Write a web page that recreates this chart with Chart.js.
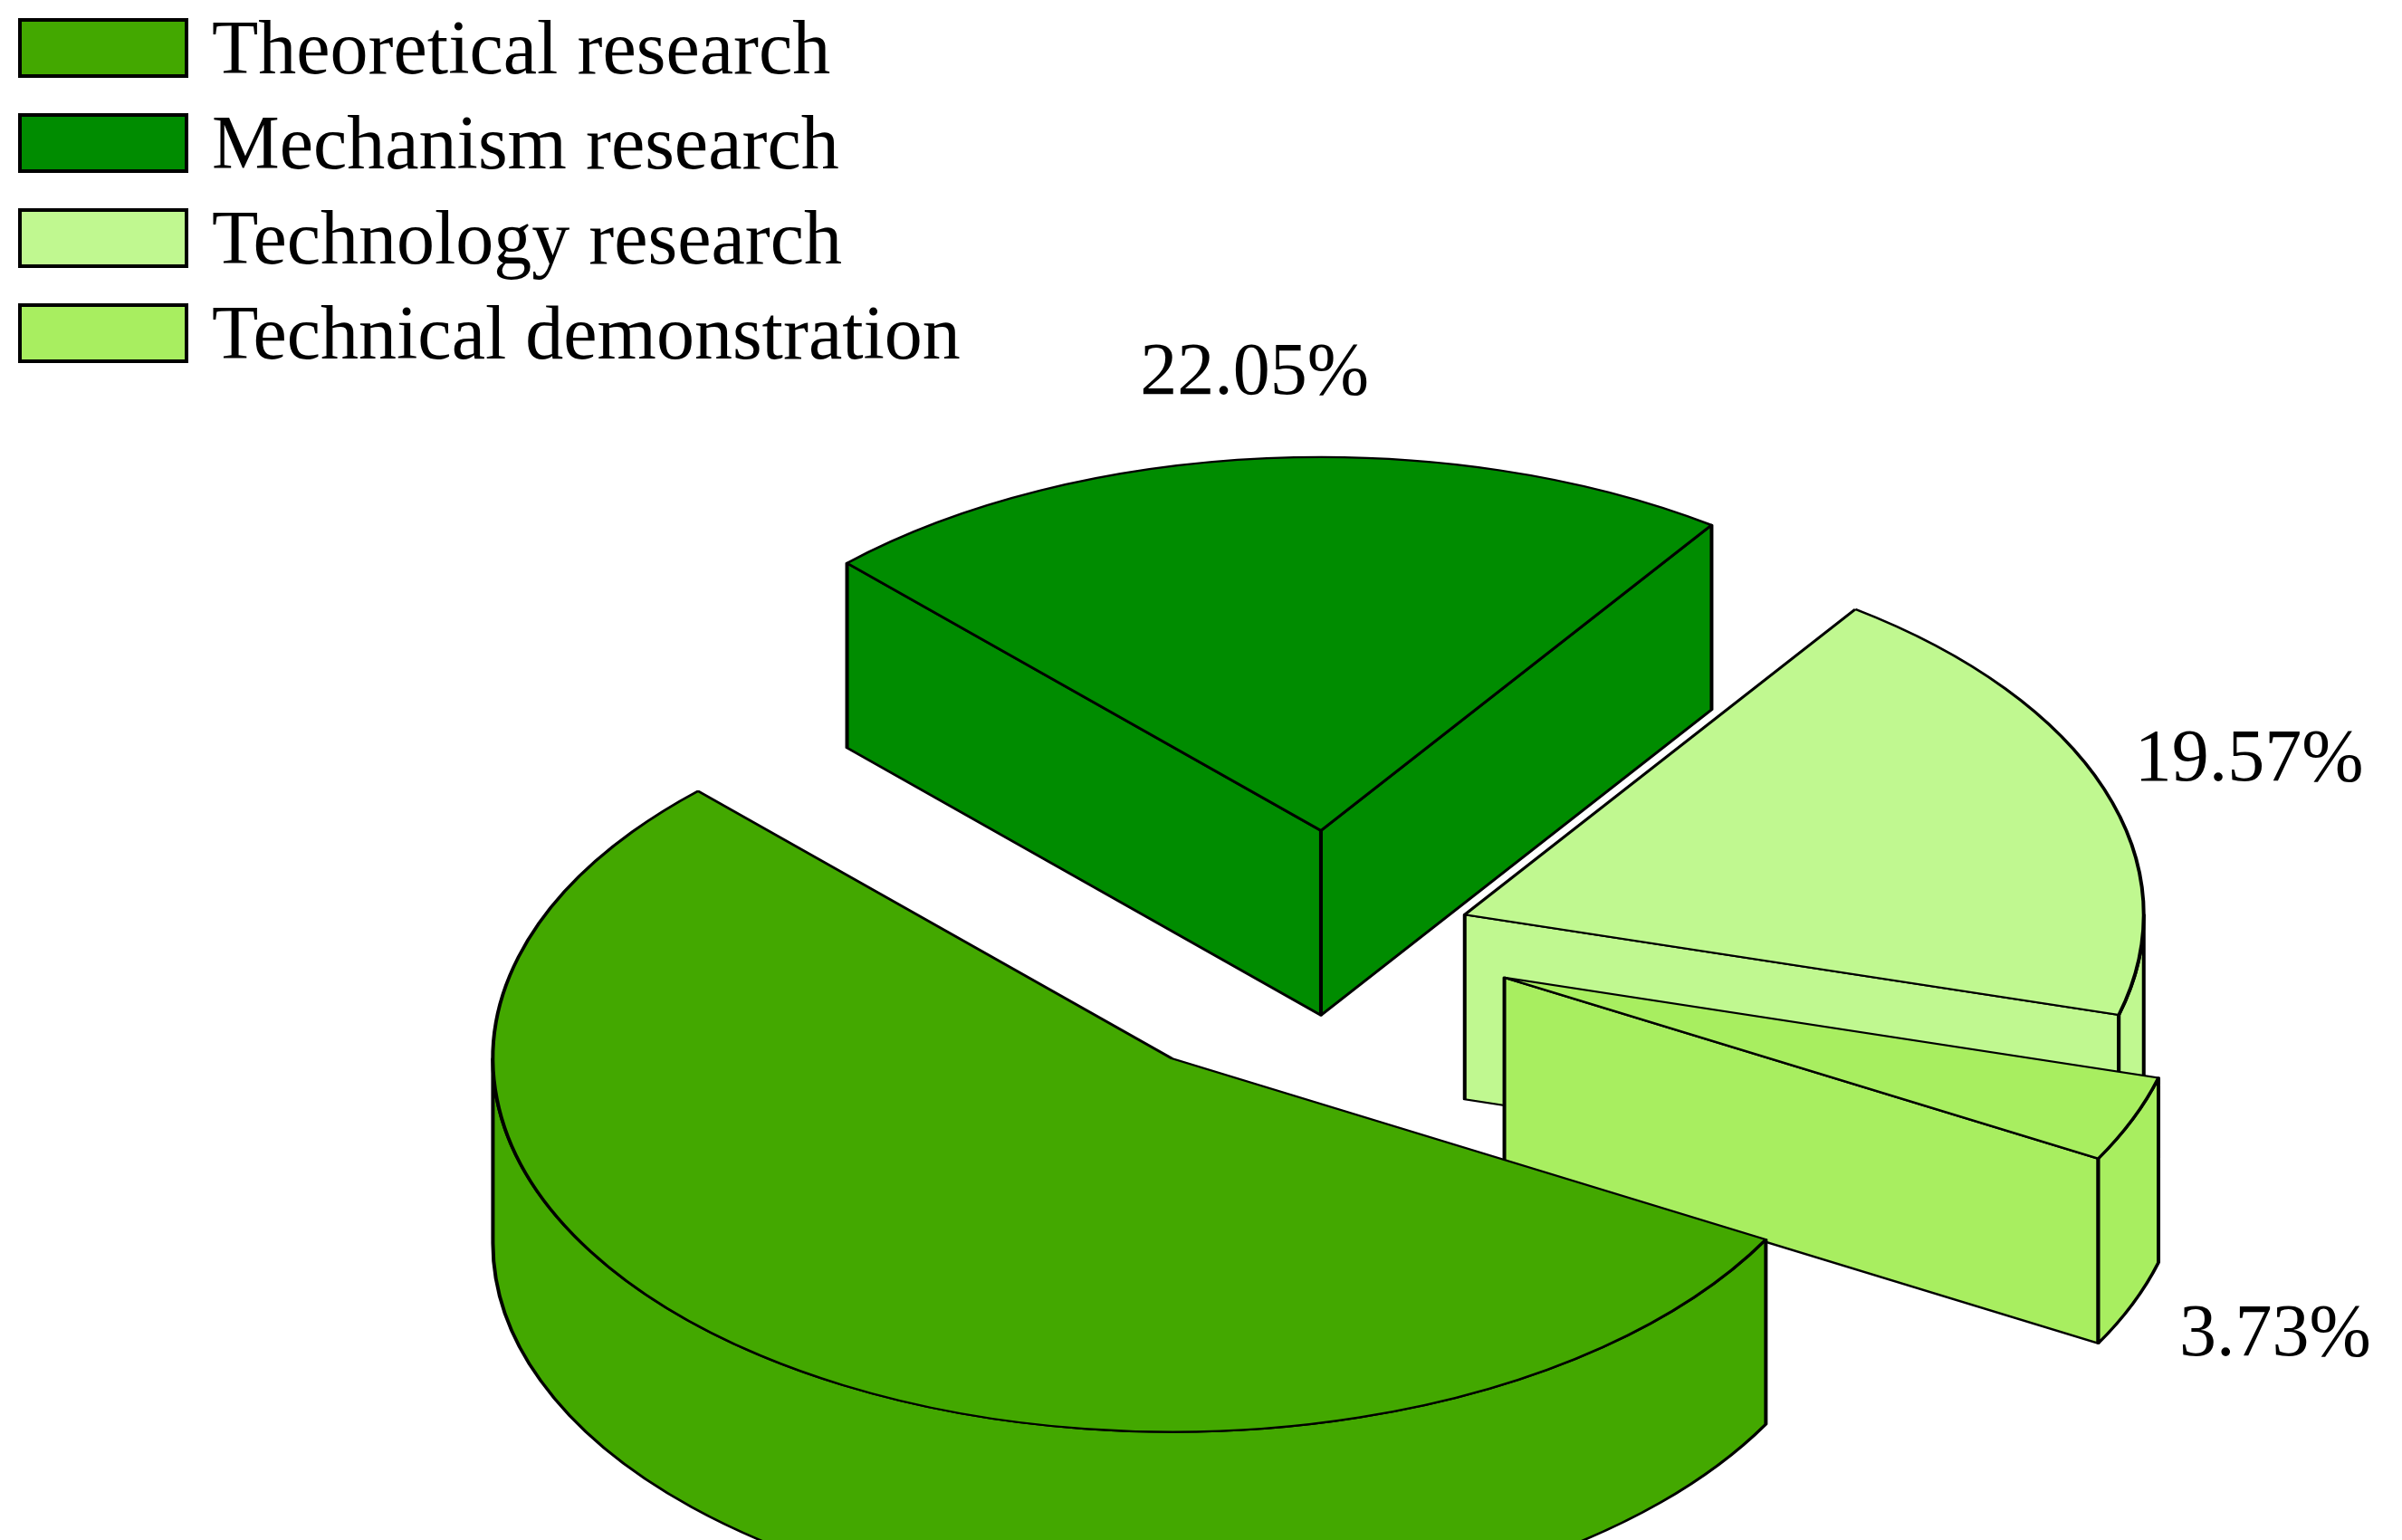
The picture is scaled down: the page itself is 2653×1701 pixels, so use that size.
<!DOCTYPE html>
<html>
<head>
<meta charset="utf-8">
<script src="https://cdn.jsdelivr.net/npm/chart.js@4"></script>
<style>
  html, body { margin: 0; padding: 0; background: #fff; }
  #wrap { position: relative; width: 2653px; height: 1701px; }
  #legend { position: absolute; left: 20px; top: 0px; font-family: "Liberation Serif", serif; font-size: 84px; color: #000; }
  .row { display: flex; align-items: center; height: 105px; }
  .box { width: 188px; height: 66px; border: 4px solid #000; margin-right: 26px; box-sizing: border-box; }
</style>
</head>
<body>
<div id="wrap">
  <canvas id="pie" width="2653" height="1701"></canvas>
  <div id="legend"></div>
</div>
<script>
const labels = ["Theoretical research", "Mechanism research", "Technology research", "Technical demonstration"];
const values = [54.65, 22.05, 19.57, 3.73];
const colors = ["#43a800", "#008c00", "#c0f890", "#a8ee60"];
const explode = [300, 220, 150, 200];

const K = 0.55;       // vertical squash
const DEPTH = 204;    // side height in screen px
const CY_SCREEN = 1038;

const legend = document.getElementById("legend");
labels.forEach((l, i) => {
  legend.innerHTML += `<div class="row"><div class="box" style="background:${colors[i]}"></div>${l}</div>`;
});

function geom(el) {
  const mid = (el.startAngle + el.endAngle) / 2;
  return { x: el.x, y: el.y, r: el.outerRadius, a1: el.startAngle, a2: el.endAngle, mid };
}

const pie3d = {
  id: "pie3d",
  afterUpdate(chart) {
    // explode slices by moving each arc's centre outwards
    chart.getDatasetMeta(0).data.forEach((el, i) => {
      const mid = (el.startAngle + el.endAngle) / 2;
      el.x += Math.cos(mid) * explode[i];
      el.y += Math.sin(mid) * explode[i];
    });
  },
  beforeDatasetsDraw(chart) {
    const ctx = chart.ctx;
    const cyc = (chart.chartArea.top + chart.chartArea.bottom) / 2;
    ctx.save();
    ctx.translate(0, CY_SCREEN);
    ctx.scale(1, K);
    ctx.translate(0, -cyc);
    const d = DEPTH / K;
    const arcs = chart.getDatasetMeta(0).data.map((el, i) => ({ g: geom(el), i }));
    arcs.sort((p, q) => Math.sin(p.g.mid) - Math.sin(q.g.mid));
    ctx.lineWidth = 4;
    ctx.strokeStyle = "#000";
    ctx.lineJoin = "round";
    arcs.forEach(({ g, i }) => {
      ctx.fillStyle = colors[i];
      const face = a => {
        const ex = g.x + Math.cos(a) * g.r, ey = g.y + Math.sin(a) * g.r;
        ctx.beginPath();
        ctx.moveTo(g.x, g.y);
        ctx.lineTo(ex, ey);
        ctx.lineTo(ex, ey + d);
        ctx.lineTo(g.x, g.y + d);
        ctx.closePath();
        ctx.fill();
        ctx.stroke();
      };
      if (-Math.cos(g.a1) > 0) face(g.a1);
      if (Math.cos(g.a2) > 0) face(g.a2);
      for (let k = -2; k <= 2; k++) {
        const lo = Math.max(g.a1, k * 2 * Math.PI);
        const hi = Math.min(g.a2, k * 2 * Math.PI + Math.PI);
        if (hi <= lo) continue;
        ctx.beginPath();
        ctx.arc(g.x, g.y, g.r, lo, hi);
        ctx.lineTo(g.x + Math.cos(hi) * g.r, g.y + Math.sin(hi) * g.r + d);
        ctx.arc(g.x, g.y + d, g.r, hi, lo, true);
        ctx.closePath();
        ctx.fill();
        ctx.stroke();
      }
    });
  },
  afterDatasetsDraw(chart) {
    const ctx = chart.ctx;
    ctx.restore();
    const cyc = (chart.chartArea.top + chart.chartArea.bottom) / 2;
    ctx.save();
    ctx.font = "82px 'Liberation Serif', serif";
    ctx.fillStyle = "#000";
    ctx.textAlign = "center";
    ctx.textBaseline = "middle";
    chart.getDatasetMeta(0).data.forEach((el, i) => {
      const g = geom(el);
      const R = g.r + 170;
      const s = Math.sin(g.mid);
      const sx = g.x + Math.cos(g.mid) * R;
      const sy = CY_SCREEN + (g.y + s * R - cyc) * K + (s > 0 ? DEPTH : 0);
      ctx.fillText(values[i].toFixed(2) + "%", sx, sy);
    });
    ctx.restore();
  }
};

new Chart(document.getElementById("pie"), {
  type: "pie",
  data: {
    labels: labels,
    datasets: [{
      data: values,
      backgroundColor: colors,
      borderColor: "#000",
      borderWidth: 4
    }]
  },
  options: {
    responsive: false,
    animation: false,
    events: [],
    rotation: 119,
    radius: 750,
    layout: { padding: { left: 300, right: 0 } },
    plugins: { legend: { display: false }, tooltip: { enabled: false } }
  },
  plugins: [pie3d]
});
</script>
</body>
</html>
